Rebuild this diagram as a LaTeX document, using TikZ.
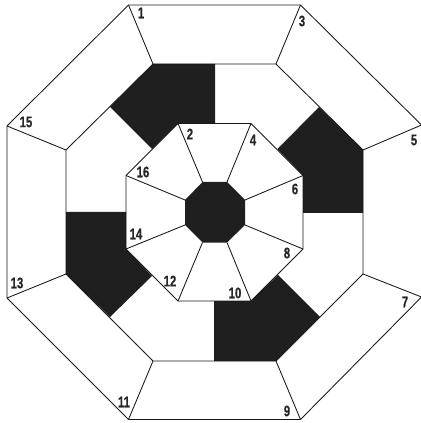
\documentclass[tikz,border=0pt]{standalone}
\usepackage{fontspec}
\setsansfont[FakeStretch=0.74,BoldFont={Liberation Sans Bold},BoldFeatures={FakeBold=0.5}]{Liberation Sans}
\usepackage{tikz}
\usetikzlibrary{positioning,calc}

\tikzset{
  ringline/.style={draw=black!90, line width=0.65pt, line join=miter},
  blackcell/.style={fill=black!88, draw=none},
  celllabel/.style={inner sep=0pt, font=\sffamily\bfseries\fontsize{11.5}{12}\selectfont, text=black!85}
}

\begin{document}
\begin{tikzpicture}[x=0.75pt, y=-0.75pt]
  \useasboundingbox (0,0) rectangle (420,423);

  % Rings
  \foreach \i/\o/\m/\n/\c in {
      a/{128.5,5}/{153,64}/{178,123.5}/{202.5,182},
      b/{300.5,5}/{276,64}/{251,123.5}/{227,182},
      c/{421.5,125}/{363,150}/{303,175.5}/{245,200},
      d/{421.5,297}/{363,274}/{303,249}/{245,225},
      e/{300.5,419.5}/{276,361}/{251,301}/{227,242.5},
      f/{128.5,419.5}/{153,361}/{178,301}/{202.5,242.5},
      g/{7,298}/{66,274}/{126,249}/{185,225},
      h/{7,126}/{66,150}/{126,175.5}/{185,200}} {
    \coordinate (o\i) at (\o);
    \coordinate (m\i) at (\m);
    \coordinate (n\i) at (\n);
    \coordinate (c\i) at (\c);
  }

  % Black cells
  \fill[blackcell] (ma) -- (215,64) -- (215,123.5) -- (na) -- (152,149) -- (110,107) -- cycle;
  \fill[blackcell] (319,107) -- (mc) -- (363,213) -- (303,213) -- (nc) -- (277.5,149) -- cycle;
  \fill[blackcell] (278,275) -- (320,317) -- (me) -- (214,361) -- (214,301) -- (ne) -- cycle;
  \fill[blackcell] (66,212) -- (126,212) -- (ng) -- (152,276) -- (110,317) -- (mg) -- cycle;
  \fill[blackcell] (ca) -- (cb) -- (cc) -- (cd) -- (ce) -- (cf) -- (cg) -- (ch) -- cycle;

  % Octagons
  \draw[ringline] (oa) -- (ob) -- (oc) -- (od) -- (oe) -- (of) -- (og) -- (oh) -- cycle;
  \draw[ringline] (ma) -- (mb) -- (mc) -- (md) -- (me) -- (mf) -- (mg) -- (mh) -- cycle;
  \draw[ringline] (na) -- (nb) -- (nc) -- (nd) -- (ne) -- (nf) -- (ng) -- (nh) -- cycle;

  % Spokes
  \foreach \i in {a,b,c,d,e,f,g,h} {
    \draw[ringline] (o\i) -- (m\i);
    \draw[ringline] (n\i) -- (c\i);
  }

  % Labels
  \foreach \name/\pos/\txt in {
      l1/{141,13}/1, l2/{190,134}/2, l3/{302,21}/3, l4/{253,140}/4,
      l5/{414,140}/5, l6/{295,189}/6, l7/{405,302}/7, l8/{287,253}/8,
      l9/{287,411}/9, l10/{235,293}/10, l11/{124,402}/11, l12/{170,281}/12,
      l13/{17,283}/13, l14/{136,234}/14, l15/{26,122}/15, l16/{143,172}/16} {
    \node[celllabel] (\name) at (\pos) {\txt};
  }
\end{tikzpicture}
\end{document}
